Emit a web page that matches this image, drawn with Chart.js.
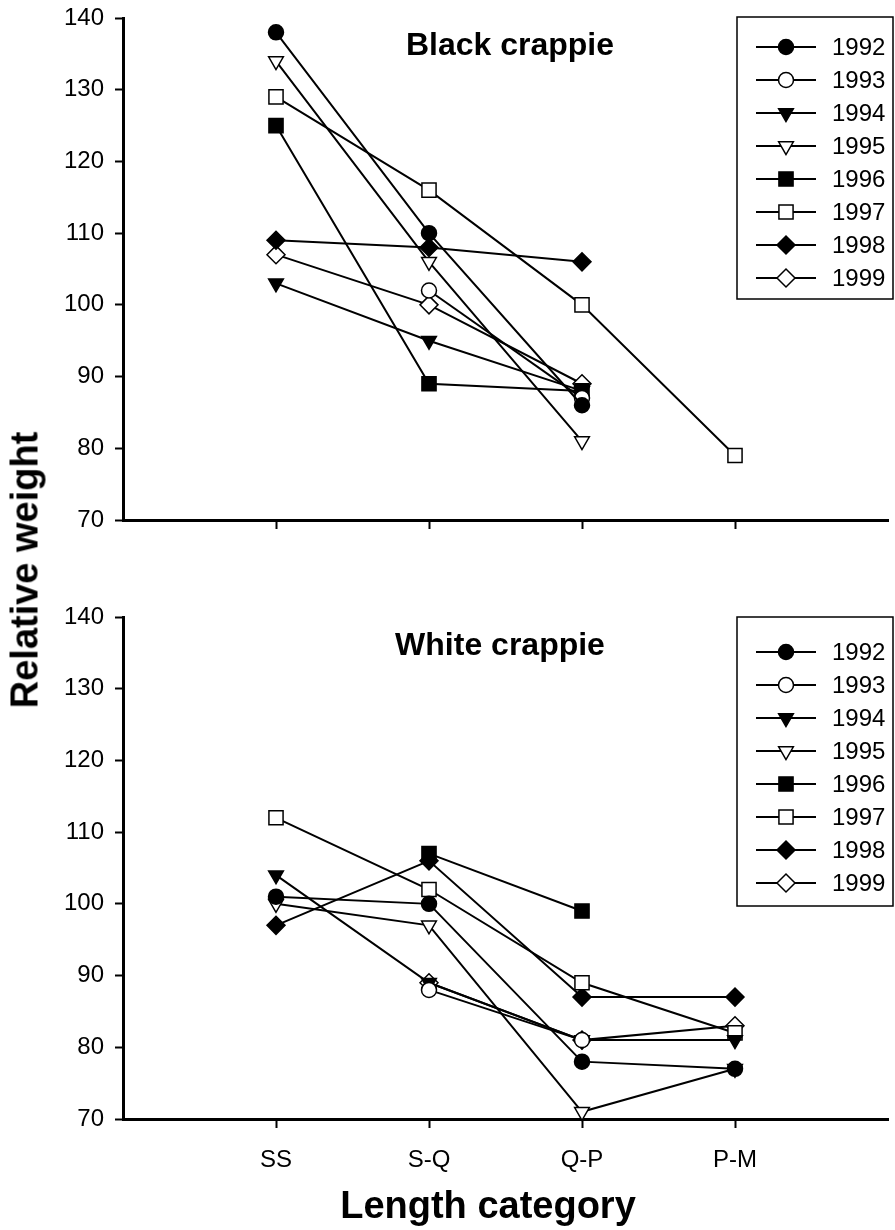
<!DOCTYPE html>
<html>
<head>
<meta charset="utf-8">
<script src="https://cdn.jsdelivr.net/npm/chart.js@4.4.1/dist/chart.umd.min.js"></script>
<style>
    body { margin: 0; background: #fff; width: 895px; height: 1230px; position: relative; overflow: hidden; }
    .panel { position: absolute; left: 0; width: 895px; }
    #topPanel { top: 0; height: 560px; }
    #bottomPanel { top: 560px; height: 670px; }
    .axisTitle { position: absolute; font-family: "Liberation Sans", Arial, sans-serif; font-weight: bold; font-size: 38px; color: #000; white-space: nowrap; }
    #yTitle { left: 25px; top: 570px; transform: translate(-50%, -50%) rotate(-90deg); }
    #xTitle { left: 488px; top: 1205px; transform: translate(-50%, -50%); }
</style>
</head>
<body>
<div class="panel" id="topPanel"><canvas id="blackChart"></canvas></div>
<div class="panel" id="bottomPanel"><canvas id="whiteChart"></canvas></div>
<div class="axisTitle" id="yTitle">Relative weight</div>
<div class="axisTitle" id="xTitle">Length category</div>

<script>
"use strict";

// Längdkategorier och år
const categories = ["SS", "S-Q", "Q-P", "P-M"];
const years = ["1992", "1993", "1994", "1995", "1996", "1997", "1998", "1999"];
const yTicks = [70, 80, 90, 100, 110, 120, 130, 140];

// Black crappie
const black1992 = [138, 110, 86, null];
const black1993 = [null, 102, 87, null];
const black1994 = [103, 95, 88, null];
const black1995 = [134, 106, 81, null];
const black1996 = [125, 89, 88, null];
const black1997 = [129, 116, 100, 79];
const black1998 = [109, 108, 106, null];
const black1999 = [107, 100, 89, null];

// White crappie
const white1992 = [101, 100, 78, 77];
const white1993 = [null, 88, 81, null];
const white1994 = [104, 89, 81, 81];
const white1995 = [100, 97, 71, 77];
const white1996 = [null, 107, 99, null];
const white1997 = [112, 102, 89, 82];
const white1998 = [97, 106, 87, 87];
const white1999 = [null, 89, 81, 83];

// Markörer per år: form, fylld, rotation, radie
const markers = [
    { style: "circle", fill: true, rot: 0, r: 7.5 },
    { style: "circle", fill: false, rot: 0, r: 7.5 },
    { style: "triangle", fill: true, rot: 180, r: 8.5 },
    { style: "triangle", fill: false, rot: 180, r: 8.5 },
    { style: "rect", fill: true, rot: 0, r: 10 },
    { style: "rect", fill: false, rot: 0, r: 10 },
    { style: "rectRot", fill: true, rot: 0, r: 9 },
    { style: "rectRot", fill: false, rot: 0, r: 9 }
];

const FONT = "'Liberation Sans', Arial, sans-serif";

// Tomma platser i båda ändar av x-axeln
const xLabels = ["", ...categories, ""];

function buildDatasets(series) {
    return series.map((values, i) => {
        const m = markers[i];
        return {
            label: years[i],
            data: [null, ...values, null],
            borderColor: "#000",
            borderWidth: 2,
            pointStyle: m.style,
            pointRotation: m.rot,
            pointRadius: m.r,
            pointHoverRadius: m.r,
            pointBorderWidth: 1.5,
            pointBorderColor: "#000",
            pointBackgroundColor: m.fill ? "#000" : "#fff",
            tension: 0,
            clip: false
        };
    });
}

// Ritar paneltitel och förklaringsruta
const panelDecor = {
    id: "panelDecor",
    afterDraw(chart, args, opts) {
        const ctx = chart.ctx;
        ctx.save();
        ctx.fillStyle = "#000";
        ctx.textAlign = "center";
        ctx.textBaseline = "middle";
        ctx.font = "bold 32px " + FONT;
        ctx.fillText(opts.title, opts.titleX, opts.titleY);

        // ruta
        ctx.strokeStyle = "#000";
        ctx.lineWidth = 1.5;
        ctx.strokeRect(opts.boxX, opts.boxY, opts.boxW, opts.boxH);

        ctx.font = "24px " + FONT;
        ctx.textAlign = "left";
        years.forEach((year, i) => {
            const y = opts.firstY + i * opts.step;
            const m = markers[i];
            ctx.lineWidth = 2;
            ctx.beginPath();
            ctx.moveTo(opts.boxX + 19, y);
            ctx.lineTo(opts.boxX + 79, y);
            ctx.stroke();
            ctx.fillStyle = m.fill ? "#000" : "#fff";
            ctx.lineWidth = 1.5;
            Chart.helpers.drawPoint(ctx, { pointStyle: m.style, rotation: m.rot, radius: m.r, borderWidth: 1.5 }, opts.boxX + 49, y);
            ctx.fillStyle = "#000";
            ctx.fillText(year, opts.boxX + 95, y + 1);
        });
        ctx.restore();
    }
};

function createChart(id, series, showLabels, padTop, xHeight, decor) {
    const ctx = document.getElementById(id);
    return new Chart(ctx, {
        type: "line",
        data: {
            labels: xLabels,
            datasets: buildDatasets(series)
        },
        options: {
            responsive: true,
            maintainAspectRatio: false,
            animation: false,
            events: [],
            layout: { autoPadding: false, padding: { top: padTop, right: 7, bottom: 0, left: 0 } },
            plugins: {
                legend: { display: false },
                tooltip: { enabled: false },
                panelDecor: decor
            },
            scales: {
                x: {
                    offset: false,
                    border: { display: true, color: "#000", width: 3 },
                    grid: {
                        drawOnChartArea: false,
                        drawTicks: true,
                        tickLength: 9,
                        tickWidth: 2,
                        tickColor: c => (c.index >= 1 && c.index <= 4) ? "#000" : "rgba(0,0,0,0)"
                    },
                    ticks: {
                        display: showLabels,
                        autoSkip: false,
                        maxRotation: 0,
                        padding: 18,
                        color: "#000",
                        font: { family: FONT, size: 24 }
                    },
                    afterFit: scale => {
                        scale.height = xHeight;
                        scale.paddingLeft = 0;
                        scale.paddingRight = 0;
                    }
                },
                y: {
                    min: yTicks[0],
                    max: yTicks[yTicks.length - 1],
                    border: { display: true, color: "#000", width: 3 },
                    grid: { drawOnChartArea: false, tickLength: 8, tickWidth: 2, tickColor: "#000" },
                    ticks: {
                        stepSize: 10,
                        padding: 11,
                        color: "#000",
                        font: { family: FONT, size: 24 }
                    },
                    afterFit: scale => {
                        scale.width = 123;
                        scale.paddingTop = 0;
                        scale.paddingBottom = 0;
                    }
                }
            }
        },
        plugins: [panelDecor]
    });
}

createChart("blackChart",
    [black1992, black1993, black1994, black1995, black1996, black1997, black1998, black1999],
    false, 18, 40,
    { title: "Black crappie", titleX: 510, titleY: 46, boxX: 737, boxY: 17, boxW: 156, boxH: 282, firstY: 47, step: 33 });

createChart("whiteChart",
    [white1992, white1993, white1994, white1995, white1996, white1997, white1998, white1999],
    true, 57, 111,
    { title: "White crappie", titleX: 500, titleY: 86, boxX: 737, boxY: 57, boxW: 156, boxH: 289, firstY: 92, step: 33 });
</script>
</body>
</html>
